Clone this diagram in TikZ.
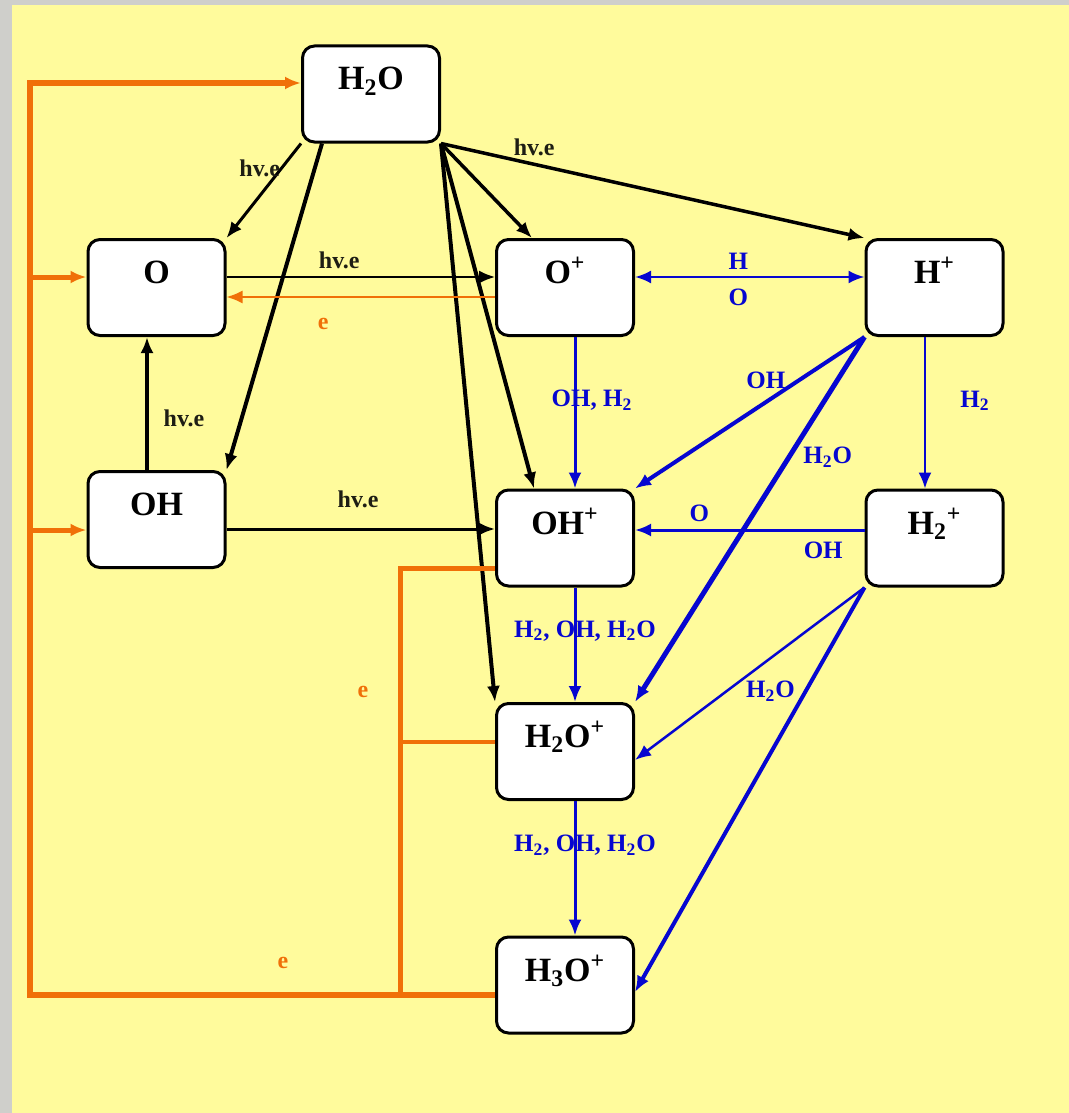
\documentclass[tikz,border=0pt]{standalone}
\usepackage{fontspec}
\setmainfont{Liberation Serif}
\usetikzlibrary{arrows.meta}
\definecolor{paper}{HTML}{FFFB9C}
\definecolor{frame}{HTML}{CFCFCB}
\definecolor{ored}{HTML}{F07008}
\definecolor{ionblue}{HTML}{0606D0}
\definecolor{ink}{HTML}{1E1E14}
\tikzset{
  >={Latex[length=8pt,width=6.5pt]},
  species/.style={draw=black,line width=1.5pt,fill=white,rounded corners=6pt,
    minimum width=68.5pt,minimum height=48pt,inner xsep=0pt,inner ysep=0pt,
    text height=22pt,text depth=26pt,font=\fontsize{17}{20}\selectfont\bfseries},
  hv/.style={->,draw=black,line width=2pt},
  eflow/.style={draw=ored,line width=2.5pt},
  ion/.style={->,draw=ionblue,line width=1.5pt},
  hvlbl/.style={font=\fontsize{12}{14}\selectfont\bfseries,text=ink},
  ionlbl/.style={font=\fontsize{12.5}{14}\selectfont\bfseries,text=ionblue},
  elbl/.style={font=\fontsize{12}{14}\selectfont\bfseries,text=ored}
}

\begin{document}
\begin{tikzpicture}[x=0.5pt,y=-0.5pt]
  \fill[frame] (0,0) rectangle (1069,1113);
  \fill[paper] (12,5) rectangle (1069,1113);
  \useasboundingbox (0,0) rectangle (1069,1113);

  % species
  \node[species] (h2o)  at (371,94)    {H\textsubscript{2}O};
  \node[species] (o)    at (156.5,287.5) {O};
  \node[species] (op)   at (565,287.5) {O\textsuperscript{+}};
  \node[species] (hp)   at (934.5,287.5) {H\textsuperscript{+}};
  \node[species] (oh)   at (156.5,519.5) {OH};
  \node[species] (ohp)  at (565,538)   {OH\textsuperscript{+}};
  \node[species] (h2p)  at (934.5,538) {H\textsubscript{2}\textsuperscript{+}};
  \node[species] (h2op) at (565,751.5) {H\textsubscript{2}O\textsuperscript{+}};
  \node[species] (h3op) at (565,985)   {H\textsubscript{3}O\textsuperscript{+}};

  % photo / electron impact
  \draw[hv,line width=1.5pt] (h2o.south west) -- node[hvlbl,pos=0.26,left,inner sep=0pt]{hv.e} (o.north east);
  \draw[hv] ([xshift=-24.5pt]h2o.south) -- (oh.north east);
  \draw[hv,line width=1.75pt] (h2o.south east) -- ([xshift=-16.5pt]op.north);
  \draw[hv,line width=1.75pt] (h2o.south east) -- node[hvlbl,pos=0.22,above]{hv.e} (hp.north west);
  \draw[hv] (h2o.south east) -- ([xshift=-15.5pt]ohp.north);
  \draw[hv] (h2o.south east) -- (h2op.north west);
  \draw[hv,line width=1pt] ([yshift=5.25pt]o.east) -- node[hvlbl,pos=0.42,above]{hv.e} ([yshift=5.25pt]op.west);
  \draw[hv] ([xshift=-4.75pt]oh.north) -- node[hvlbl,pos=0.39,right,xshift=4pt]{hv.e} ([xshift=-4.75pt]o.south);
  \draw[hv,line width=1.5pt] ([yshift=-4.75pt]oh.east) -- node[hvlbl,pos=0.49,above,yshift=6.5pt]{hv.e} ([yshift=-4.75pt]oh.east -| ohp.west);

  % recombination
  \coordinate (ecorner) at (30,995);
  \coordinate (etop) at (30,83);
  \coordinate (ejoin) at (400,995);
  \coordinate (oin) at ([yshift=5.25pt]o.west);
  \coordinate (ohin) at ([yshift=-5.25pt]oh.west);
  \draw[eflow,->,line width=1pt] ([yshift=-4.75pt]op.west) -- node[elbl,pos=0.64,below,yshift=-7pt]{e} ([yshift=-4.75pt]o.east);
  \draw[eflow,->,line width=3pt] ([yshift=-5pt]h3op.west) -| (etop) -- (etop -| h2o.west);
  \draw[eflow,->] (oin -| etop) -- (oin);
  \draw[eflow,->] (ohin -| etop) -- (ohin);
  \draw[eflow] ([yshift=-15pt]ohp.west) -| (ejoin);
  \draw[eflow,line width=2pt] ([yshift=4.75pt]h2op.west) -- ([yshift=4.75pt]h2op.west -| ejoin);
  \node[elbl] (e1) at (363,692) {e};
  \node[elbl] (e2) at (283,963) {e};

  % ion-molecule reactions
  \draw[ion,<->,line width=1.25pt] ([yshift=5.25pt]op.east) --
    node[ionlbl,pos=0.45,above]{H}
    node[ionlbl,pos=0.45,below,yshift=-2pt]{O} ([yshift=5.25pt]hp.west);
  \draw[ion] ([xshift=5pt]op.south) -- node[ionlbl,pos=0.42,xshift=8.5pt]{OH, H\textsubscript{2}} ([xshift=5pt]ohp.north);
  \draw[ion,line width=1pt] ([xshift=-4.75pt]hp.south) -- node[ionlbl,pos=0.42,xshift=25pt]{H\textsubscript{2}} ([xshift=-4.75pt]h2p.north);
  \draw[ion,line width=2pt] (hp.south west) -- node[ionlbl,pos=0.43,yshift=11pt]{OH} (ohp.north east);
  \draw[ion,line width=2.5pt] (hp.south west) -- node[ionlbl,pos=0.33,xshift=19.5pt]{H\textsubscript{2}O} (h2op.north east);
  \draw[ion] ([yshift=4pt]h2p.west) --
    node[ionlbl,pos=0.72,above]{O}
    node[ionlbl,pos=0.18,below,yshift=-2pt]{OH} ([yshift=4pt]h2p.west -| ohp.east);
  \draw[ion] ([xshift=5pt]ohp.south) -- node[ionlbl,pos=0.38,xshift=5pt]{H\textsubscript{2}, OH, H\textsubscript{2}O} ([xshift=5pt]h2op.north);
  \draw[ion,line width=1.25pt] (h2p.south west) -- node[ionlbl,pos=0.41,yshift=-16.5pt]{H\textsubscript{2}O} ([yshift=-4.25pt]h2op.east);
  \draw[ion,line width=2pt] (h2p.south west) -- ([yshift=-3.5pt]h3op.east);
  \draw[ion] ([xshift=5pt]h2op.south) -- node[ionlbl,pos=0.33,xshift=5pt]{H\textsubscript{2}, OH, H\textsubscript{2}O} ([xshift=5pt]h3op.north);
\end{tikzpicture}
\end{document}
